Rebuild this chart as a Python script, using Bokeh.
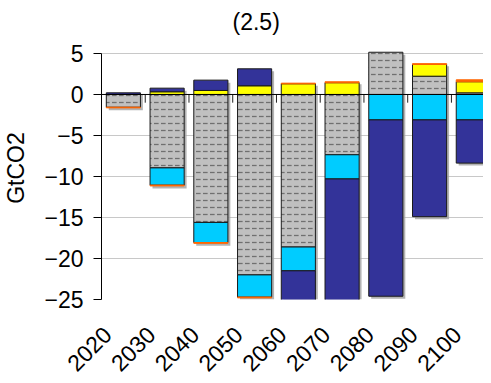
import numpy as np
from bokeh.plotting import figure
from bokeh.models import FixedTicker, Range1d, Span, ColumnDataSource
from bokeh.embed import file_html
from bokeh.resources import INLINE

years = ["2020", "2030", "2040", "2050", "2060", "2070", "2080", "2090", "2100"]
# series in stacking order (GtCO2)
gray_vals   = [-1.55, -8.95, -15.6, -22.0, -18.6, -7.35, 5.15, 2.23, 0.2]
cyan_vals   = [0.0, -2.1, -2.45, -2.7, -2.9, -2.95, -3.1, -3.1, -3.1]
yellow_vals = [0.0, 0.33, 0.49, 1.06, 1.3, 1.43, 0.0, 1.43, 1.35]
navy_vals   = [0.2, 0.44, 1.26, 2.07, -5.5, -15.5, -21.5, -11.8, -5.27]
orange_vals = [-0.08, -0.1, -0.1, -0.1, 0.08, 0.12, 0.0, 0.1, 0.24]

title_text = "(2.5)"
y_label = "GtCO2"
y_ticks = [-25, -20, -15, -10, -5, 0, 5]

FONT = "Liberation Sans"
FS = "23px"

series = [
    dict(vals=gray_vals, fill="#C0C0C0", line="#1a1a1a", hatch=True),
    dict(vals=cyan_vals, fill="#00CCFF", line="#1a1a1a", hatch=False),
    dict(vals=yellow_vals, fill="#FFFF00", line="#1a1a1a", hatch=False),
    dict(vals=navy_vals, fill="#333399", line="#1a1a1a", hatch=False),
    dict(vals=orange_vals, fill="#FF6600", line="#FF6600", hatch=False),
]

n = len(years)
xs = np.arange(n, dtype=float)
W = 0.78

p = figure(width=483, height=382, output_backend="svg", toolbar_location=None,
           x_range=Range1d(-0.5, 8.233), y_range=Range1d(-25, 7.07),
           min_border_left=90, min_border_right=0, min_border_top=36, min_border_bottom=83)
p.outline_line_color = None
p.background_fill_color = "white"

# shadows (overall stack extents)
pos_tot = np.zeros(n)
neg_tot = np.zeros(n)
for s in series:
    v = np.array(s["vals"])
    pos_tot += np.where(v > 0, v, 0)
    neg_tot += np.where(v < 0, v, 0)
dx = 2.5 / 45.0
dy = 2.5 / 8.2
p.vbar(x=xs + dx, width=W, top=pos_tot - dy, bottom=np.zeros(n),
       fill_color="#a0a0a0", line_color=None, fill_alpha=0.8)
p.vbar(x=xs + dx, width=W, top=np.zeros(n), bottom=neg_tot - dy,
       fill_color="#a0a0a0", line_color=None, fill_alpha=0.8)

pos_base = np.zeros(n)
neg_base = np.zeros(n)
for s in series:
    v = np.array(s["vals"])
    bottom = np.where(v >= 0, pos_base, neg_base)
    top = bottom + v
    pos_base = np.where(v >= 0, top, pos_base)
    neg_base = np.where(v < 0, top, neg_base)
    keep = v != 0
    src = ColumnDataSource(dict(x=xs[keep], top=top[keep], bottom=bottom[keep]))
    kw = dict(x="x", width=W, top="top", bottom="bottom", source=src,
              fill_color=s["fill"], line_color=s["line"], line_width=1)
    if s["hatch"]:
        kw.update(hatch_pattern="horizontal_dash", hatch_color="#707070",
                  hatch_scale=7, hatch_weight=1.3)
    p.vbar(**kw)

# zero line and category tick marks
p.add_layout(Span(location=0, dimension="width", line_color="black", line_width=1))
bx = xs[:-1] + 0.5
p.segment(x0=bx, y0=np.zeros(len(bx)), x1=bx, y1=np.full(len(bx), -1.0),
          line_color="#202020", line_width=1)

# axes
p.yaxis.ticker = FixedTicker(ticks=y_ticks)
p.yaxis.bounds = (min(y_ticks), max(y_ticks))
p.yaxis.major_tick_out = 8
p.yaxis.major_tick_in = 0
p.yaxis.minor_tick_line_color = None
p.yaxis.axis_line_color = "black"
p.yaxis.major_tick_line_color = "black"
p.yaxis.major_label_text_font = FONT
p.yaxis.major_label_text_font_size = FS
p.yaxis.major_label_text_color = "black"
p.yaxis.major_label_standoff = 10
p.yaxis.axis_label = y_label
p.yaxis.axis_label_text_font = FONT
p.yaxis.axis_label_text_font_size = FS
p.yaxis.axis_label_text_font_style = "normal"
p.yaxis.axis_label_text_color = "black"
p.yaxis.axis_label_standoff = 12

label_shift = 0.37  # labels sit slightly left of bar centres
tick_pos = [float(x - label_shift) for x in xs]
p.xaxis.ticker = FixedTicker(ticks=tick_pos)
p.xaxis.major_label_overrides = {t: y for t, y in zip(tick_pos, years)}
p.xaxis.major_label_orientation = np.pi / 4
p.xaxis.axis_line_color = None
p.xaxis.major_tick_line_color = None
p.xaxis.minor_tick_line_color = None
p.xaxis.major_label_text_font = FONT
p.xaxis.major_label_text_font_size = FS
p.xaxis.major_label_text_color = "black"
p.xaxis.major_label_standoff = 25

p.xgrid.grid_line_color = None
p.ygrid.ticker = FixedTicker(ticks=y_ticks)
p.ygrid.grid_line_color = "#c8c8c8"
p.ygrid.grid_line_width = 1

p.title.text = title_text
p.title.text_font = FONT
p.title.text_font_size = FS
p.title.text_font_style = "normal"
p.title.text_color = "black"
p.title.align = "left"
p.title.offset = 131
p.title.standoff = 4

open("out.html", "w").write(file_html(p, INLINE))
